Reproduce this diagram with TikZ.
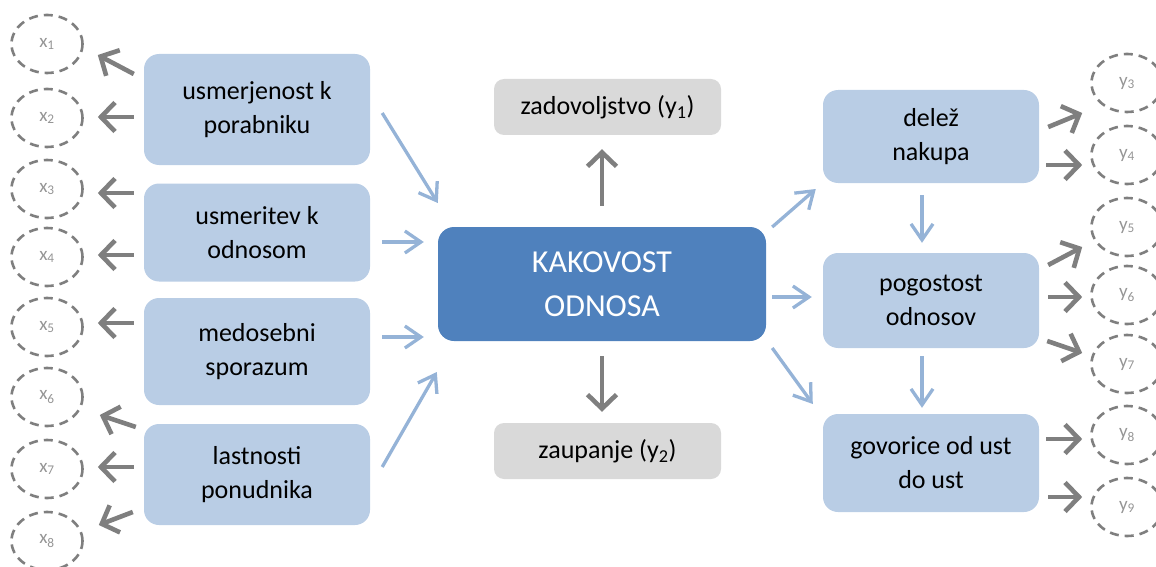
\documentclass[tikz,border=0pt]{standalone}
\usepackage{fontspec}
\setmainfont{Carlito}
\usetikzlibrary{arrows.meta,shapes.geometric,calc}
\definecolor{boxblue}{HTML}{B9CDE5}
\definecolor{coreblue}{HTML}{4F81BD}
\definecolor{boxgray}{HTML}{D9D9D9}
\definecolor{arrblue}{HTML}{95B3D7}
\definecolor{arrgray}{HTML}{7F7F7F}
\definecolor{lblgray}{HTML}{959595}
\begin{document}
\begin{tikzpicture}[x=1pt,y=-1pt,
  sidebox/.style={rectangle,rounded corners=15pt,fill=boxblue,draw=none,align=center,
    font=\fontsize{26}{34}\selectfont,text=black},
  corebox/.style={rectangle,rounded corners=16pt,fill=coreblue,draw=none,align=center,
    font=\fontsize{32}{44}\selectfont,text=white,minimum width=328pt,minimum height=114pt},
  graybox/.style={rectangle,rounded corners=10pt,fill=boxgray,draw=none,
    font=\fontsize{26}{34}\selectfont,text=black,minimum width=227pt,minimum height=56pt},
  ind/.style={ellipse,draw=arrgray,dashed,dash pattern=on 9pt off 6pt,line width=2.6pt,
    minimum width=71pt,minimum height=58pt,inner sep=0pt,text=lblgray,font=\fontsize{19}{22}\selectfont},
  garr/.style={draw=arrgray,line width=4.6pt,-{Straight Barb[length=14pt,width=29pt]}},
  barr/.style={draw=arrblue,line width=3.3pt,-{Straight Barb[length=16pt,width=22pt]}}
]
\useasboundingbox (0,0) rectangle (1156,567);
\clip (0,0) rectangle (1156,567);

% left boxes
\node[sidebox,minimum width=226pt,minimum height=111pt] (b1) at (257,109.5) {usmerjenost k\\porabniku};
\node[sidebox,minimum width=226pt,minimum height=98pt] (b2) at (257,232.5) {usmeritev k\\odnosom};
\node[sidebox,minimum width=226pt,minimum height=107pt] (b3) at (257,351.5) {medosebni\\sporazum};
\node[sidebox,minimum width=226pt,minimum height=101pt] (b4) at (257,474.5) {lastnosti\\ponudnika};

% center
\node[corebox] (c) at (602,284) {KAKOVOST\\ODNOSA};
\node[graybox] (top) at (607.5,107) {zadovoljstvo (y\textsubscript{1})};
\node[graybox] (bot) at (607.5,451) {zaupanje (y\textsubscript{2})};

% right boxes
\node[sidebox,minimum width=216pt,minimum height=93pt] (d) at (931,136.5) {delež\\nakupa};
\node[sidebox,minimum width=216pt,minimum height=95pt] (p) at (931,300.5) {pogostost\\odnosov};
\node[sidebox,minimum width=216pt,minimum height=98pt] (g) at (931,463) {govorice od ust\\do ust};

% left indicators
\node[ind] (x1) at (47,44) {x\textsubscript{1}};
\node[ind] (x2) at (47,118) {x\textsubscript{2}};
\node[ind] (x3) at (47,189) {x\textsubscript{3}};
\node[ind] (x4) at (47,257) {x\textsubscript{4}};
\node[ind] (x5) at (47,327) {x\textsubscript{5}};
\node[ind] (x6) at (47,397) {x\textsubscript{6}};
\node[ind] (x7) at (47,469) {x\textsubscript{7}};
\node[ind] (x8) at (47,541) {x\textsubscript{8}};

% right indicators
\node[ind] (y3) at (1127,83) {y\textsubscript{3}};
\node[ind] (y4) at (1127,155) {y\textsubscript{4}};
\node[ind] (y5) at (1127,227) {y\textsubscript{5}};
\node[ind] (y6) at (1127,295) {y\textsubscript{6}};
\node[ind] (y7) at (1127,364) {y\textsubscript{7}};
\node[ind] (y8) at (1127,435) {y\textsubscript{8}};
\node[ind] (y9) at (1127,507) {y\textsubscript{9}};

% left gray arrows
\draw[garr] ($(b1.west)+(-10,-35.5)$) -- ($(x1.east)+(14,11)$);
\draw[garr] ($(b1.west)+(-10,7.5)$) -- ($(x2.east)+(14,-1)$);
\draw[garr] ($(b2.west)+(-10,-39.5)$) -- ($(x3.east)+(14,4)$);
\draw[garr] ($(b2.west)+(-10,22.5)$) -- ($(x4.east)+(14,-2)$);
\draw[garr] ($(b3.west)+(-10,-28.5)$) -- ($(x5.east)+(14,-4)$);
\draw[garr] ($(b4.west)+(-8,-47.5)$) -- ($(x6.east)+(16,18)$);
\draw[garr] ($(b4.west)+(-10,-7.5)$) -- ($(x7.east)+(14,-2)$);
\draw[garr] ($(b4.west)+(-11,37.5)$) -- ($(x8.east)+(15,-16)$);

% blue arrows into center
\draw[barr] ($(b1.east)+(12,3.5)$) -- ($(c.west)+(0,-81)$);
\draw[barr] ($(b2.east)+(12,9.5)$) -- ($(c.west)+(-14,-42)$);
\draw[barr] ($(b3.east)+(12,-14.5)$) -- ($(c.west)+(-14,53)$);
\draw[barr] ($(b4.east)+(12,-7.5)$) -- ($(c.west)+(-1,88)$);

% center to outcomes
\draw[garr] ($(c.north)+(0,-21)$) -- ($(top.south)+(-5.5,14)$);
\draw[garr] ($(c.south)+(0,15)$) -- ($(bot.north)+(-5.5,-11)$);

% blue arrows right
\draw[barr] ($(c.east)+(6,-57)$) -- ($(d.west)+(-7,52.5)$);
\draw[barr] ($(c.east)+(6,13)$) -- ($(p.west)+(-11,-3.5)$);
\draw[barr] ($(c.east)+(6,64)$) -- ($(g.west)+(-10,-59)$);
\draw[barr] ($(d.south)+(-9,12)$) -- ($(p.north)+(-9,-10)$);
\draw[barr] ($(p.south)+(-9,8)$) -- ($(g.north)+(-9,-6)$);

% right gray arrows
\draw[garr] ($(d.east)+(9,-9.5)$) -- ($(y3.west)+(-8,30)$);
\draw[garr] ($(d.east)+(7,28.5)$) -- ($(y4.west)+(-8,10)$);
\draw[garr] ($(p.east)+(9,-35.5)$) -- ($(y5.west)+(-8,20)$);
\draw[garr] ($(p.east)+(9,-3.5)$) -- ($(y6.west)+(-8,2)$);
\draw[garr] ($(p.east)+(8,40.5)$) -- ($(y7.west)+(-8,-11)$);
\draw[garr] ($(g.east)+(7,-24)$) -- ($(y8.west)+(-8,4)$);
\draw[garr] ($(g.east)+(9,34)$) -- ($(y9.west)+(-8,-10)$);
\end{tikzpicture}
\end{document}
